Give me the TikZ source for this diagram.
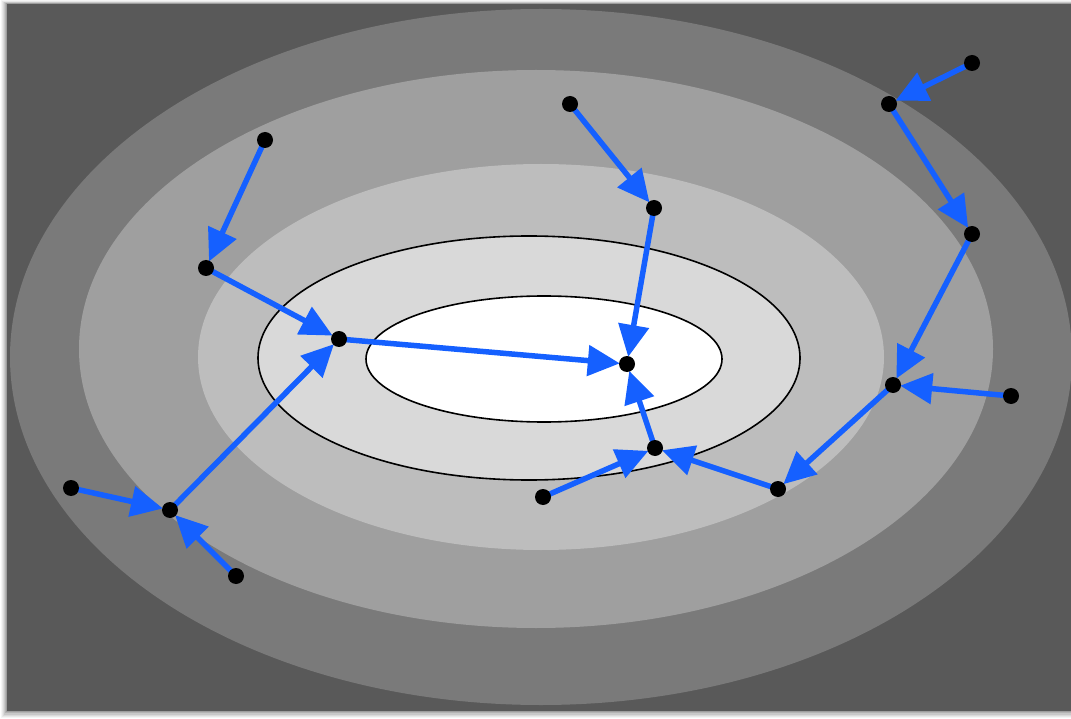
\documentclass[tikz,border=0pt]{standalone}
\usetikzlibrary{arrows.meta}
\pgfdeclarelayer{bg}
\pgfdeclarelayer{arrowlayer}
\pgfsetlayers{bg,arrowlayer,main}
\definecolor{bgdark}{HTML}{595959}
\definecolor{ringA}{HTML}{7A7A7A}
\definecolor{ringB}{HTML}{9F9F9F}
\definecolor{ringC}{HTML}{BDBDBD}
\definecolor{ringD}{HTML}{D9D9D9}
\definecolor{arrblue}{HTML}{1560FF}
\tikzset{
  dot/.style={circle,fill=black,minimum size=16pt,inner sep=0pt},
  flow/.style={arrblue,line width=5.5pt,-{Triangle[length=32pt,width=30pt]},shorten >=-1pt}
}
\begin{document}
\begin{tikzpicture}[x=1pt,y=-1pt]
\useasboundingbox (0,0) rectangle (1071,719);
\begin{pgfonlayer}{bg}
\fill[white] (0,0) rectangle (1071,719);
\foreach \i/\o in {6/0.04,5/0.05,4/0.06,3/0.08,2/0.1,1/0.12}{
  \fill[black,opacity=\o] (7-\i,4-\i*0.6) rectangle (1075+\i,711+\i*1.2);
}
\fill[bgdark] (7,4) rectangle (1071,711);
\begin{scope}
\clip (7,4) rectangle (1071,711);
\fill[ringA] (541,357) ellipse [x radius=531,y radius=348];
\end{scope}
\fill[ringB] (536,349) ellipse [x radius=457,y radius=279];
\fill[ringC] (541,357) ellipse [x radius=343,y radius=193];
\filldraw[fill=ringD,draw=black,line width=1.6pt] (529,358) ellipse [x radius=271,y radius=122];
\filldraw[fill=white,draw=black,line width=1.6pt] (544,359) ellipse [x radius=178,y radius=63];
\end{pgfonlayer}

\node[dot] (A) at (265,140) {};
\node[dot] (B) at (206,268) {};
\node[dot] (C) at (339,339) {};
\node[dot] (D) at (627,364) {};
\node[dot] (E) at (570,104) {};
\node[dot] (F) at (654,208) {};
\node[dot] (G) at (972,63) {};
\node[dot] (H) at (889,104) {};
\node[dot] (I) at (972,234) {};
\node[dot] (J) at (893,385) {};
\node[dot] (K) at (1011,396) {};
\node[dot] (L) at (778,489) {};
\node[dot] (M) at (655,448) {};
\node[dot] (N) at (543,497) {};
\node[dot] (O) at (170,510) {};
\node[dot] (P) at (71,488) {};
\node[dot] (Q) at (236,576) {};

\begin{pgfonlayer}{arrowlayer}
\foreach \s/\t in {A/B,B/C,C/D,E/F,F/D,G/H,H/I,I/J,K/J,J/L,L/M,N/M,M/D,O/C,P/O,Q/O}{
  \draw[flow] (\s.center) -- (\t);
}
\end{pgfonlayer}
\end{tikzpicture}
\end{document}
